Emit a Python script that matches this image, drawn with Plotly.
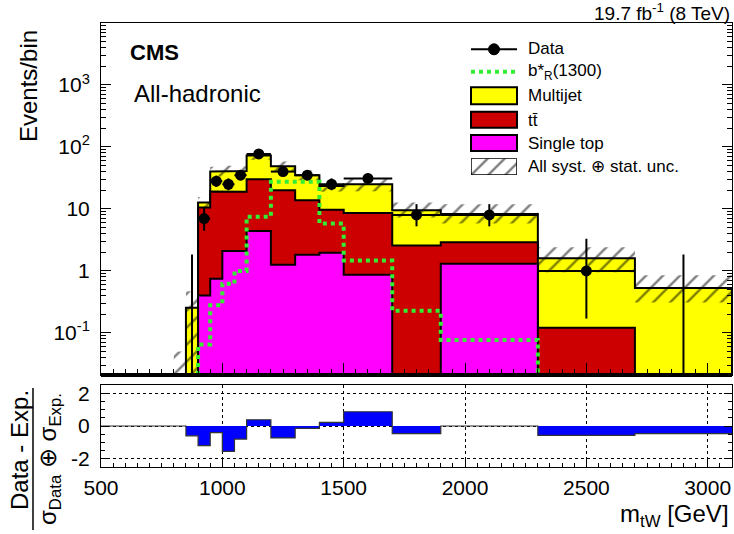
import numpy as np
import plotly.graph_objects as go

# ---------------- data ----------------
edges = [800, 850, 900, 950, 1000, 1050, 1100, 1200, 1300, 1400, 1500, 1700, 1900, 2300, 2700, 3100]
single_top = [0, 0, 0.40, 0.75, 2.1, 2.1, 4.4, 1.26, 1.82, 1.96, 0.87, 0, 1.30, 0, 0]
ttbar = [0, 0, 10.1, 18.3, 16.9, 16.9, 25.6, 18.7, 12.0, 7.7, 7.7, 2.56, 1.6, 0.121, 0]
multijet = [0, 0.254, 2.2, 21, 22, 22, 43, 29, 21.2, 13.7, 16.4, 7.0, 5.4, 1.48, 0.53]
unc_low = [1e-4, 1e-4, 10.5, 33, 34, 34, 62, 41, 29, 19, 19.5, 7.3, 5.8, 0.95, 0.31]
unc_high = [0.05, 0.47, 15.5, 48, 50, 49, 86, 58, 42, 28, 31, 12.7, 11.9, 2.4, 0.85]
signal = [0, 0, 0.065, 0.28, 0.62, 1.0, 7.5, 27.5, 27.5, 5.8, 1.47, 0.227, 0.077, 0, 0]

data_edges = [850, 900, 950, 1000, 1050, 1100, 1200, 1300, 1400, 1500, 1700, 1900, 2300, 2700, 3100]
data = [0, 7, 28, 25, 35, 77, 40, 35, 25, 31, 8, 8, 1, 0]
data_err_up = [1.84, 3.77, 6.39, 6.08, 6.97, 9.84, 7.39, 6.97, 6.08, 6.63, 3.94, 3.94, 2.30, 1.84]
data_err_dn = [0, 2.58, 5.27, 4.97, 5.89, 8.76, 6.31, 5.89, 4.97, 5.52, 2.76, 2.76, 0.83, 0]

pull_edges = [500, 850, 900, 950, 1000, 1050, 1100, 1200, 1300, 1400, 1500, 1700, 1900, 2300, 2700, 3100]
pull = [0, -0.6, -1.2, -0.4, -1.55, -0.8, 0.38, -0.73, -0.14, 0.22, 0.87, -0.47, 0.0, -0.57, -0.47]

main_yticks = [0.1, 1, 10, 100, 1000]
main_yticktext = ["10<sup>-1</sup>", "1", "10", "10<sup>2</sup>", "10<sup>3</sup>"]
x_ticks = [500, 1000, 1500, 2000, 2500, 3000]

FLOOR = 1e-4
C_YEL, C_RED, C_MAG, C_SIG, C_BLUE = "#ffff00", "#cc0000", "#ff00ff", "#33ee33", "#0000ff"
FONT = "Liberation Sans, Arial, sans-serif"

# ---------------- helpers ----------------
def step_closed(e, v, floor):
    xs, ys = [e[0]], [floor]
    for i, val in enumerate(v):
        val = max(val, floor)
        xs += [e[i], e[i + 1]]
        ys += [val, val]
    xs += [e[-1], e[0]]
    ys += [floor, floor]
    return xs, ys


def step_open(e, v, floor=None):
    xs, ys = [], []
    for i, val in enumerate(v):
        if floor is not None:
            val = max(val, floor)
        xs += [e[i], e[i + 1]]
        ys += [val, val]
    return xs, ys


st = np.array(single_top)
red = st + np.array(ttbar)
tot = red + np.array(multijet)

fig = go.Figure()

for vals, col in [(tot, C_YEL), (red, C_RED), (st, C_MAG)]:
    xs, ys = step_closed(edges, vals, FLOOR)
    fig.add_trace(go.Scatter(x=xs, y=ys, mode="lines", fill="toself", fillcolor=col,
                             line=dict(color="black", width=2), hoverinfo="skip",
                             xaxis="x", yaxis="y"))

# uncertainty band (hatched)
ux, uy = step_open(edges, unc_high)
lx, ly = step_open(edges, unc_low)
bx = ux + lx[::-1] + [ux[0]]
by = uy + ly[::-1] + [uy[0]]
hatch = dict(shape="/", fgcolor="black", bgcolor="rgba(0,0,0,0)", size=12,
             solidity=0.2, fillmode="overlay")
fig.add_trace(go.Scatter(x=bx, y=by, mode="lines", fill="toself",
                         fillcolor="rgba(0,0,0,0)", fillpattern=hatch,
                         line=dict(width=0, color="rgba(0,0,0,0)"), hoverinfo="skip",
                         xaxis="x", yaxis="y"))

# signal
sx, sy = step_open(edges, signal, FLOOR)
sx = [edges[0]] + sx
sy = [FLOOR] + sy
fig.add_trace(go.Scatter(x=sx, y=sy, mode="lines",
                         line=dict(color=C_SIG, width=4, dash="4px,4px"),
                         hoverinfo="skip", xaxis="x", yaxis="y"))

# data
de = np.array(data_edges, dtype=float)
cent = 0.5 * (de[:-1] + de[1:])
half = 0.5 * (de[1:] - de[:-1])
dv = np.array(data, dtype=float)
eu = np.array(data_err_up)
ed = np.array(data_err_dn)
nz = dv > 0
zx, zy = [], []
for c, u in zip(cent[~nz], eu[~nz]):
    zx += [c, c, None]
    zy += [FLOOR, u, None]
fig.add_trace(go.Scatter(x=zx, y=zy, mode="lines", line=dict(color="black", width=2),
                         hoverinfo="skip", xaxis="x", yaxis="y"))
fig.add_trace(go.Scatter(x=cent[nz], y=dv[nz], mode="markers",
                         marker=dict(color="black", size=11, symbol="circle"),
                         error_x=dict(type="data", array=half[nz], width=0, thickness=2, color="black"),
                         error_y=dict(type="data", symmetric=False, array=eu[nz], arrayminus=ed[nz],
                                      width=0, thickness=2, color="black"),
                         hoverinfo="skip", xaxis="x", yaxis="y"))

# pull panel
px_, py_ = step_open(pull_edges, pull)
fig.add_trace(go.Scatter(x=px_, y=py_, mode="lines", fill="tozeroy", fillcolor=C_BLUE,
                         line=dict(color="#333333", width=1.2), hoverinfo="skip",
                         xaxis="x2", yaxis="y2"))

# ---------------- layout geometry ----------------
L, R, T, B = 101, 2, 23, 67
W, H = 734, 534
PW, PH = W - L - R, H - T - B


def fx(px):
    return (px - L) / PW


def fy(py):
    return (H - B - py) / PH


# hatch legend box on its own hidden axes
fig.add_trace(go.Scatter(x=[0, 1, 1, 0, 0], y=[0, 0, 1, 1, 0], mode="lines", fill="toself",
                         fillcolor="rgba(0,0,0,0)", fillpattern=hatch,
                         line=dict(color="black", width=1.5), hoverinfo="skip",
                         xaxis="x3", yaxis="y3"))

minor_log = [k * 10.0 ** d for d in range(-2, 4) for k in range(2, 10)]
minor_log = [v for v in minor_log if 10 ** -1.68 <= v <= 1e4]

axcommon = dict(showline=True, linecolor="black", linewidth=1, showgrid=False,
                zeroline=False, ticks="inside", tickcolor="black", tickwidth=1)

fig.update_layout(
    width=W, height=H, margin=dict(l=L, r=R, t=T, b=B),
    paper_bgcolor="white", plot_bgcolor="white", showlegend=False,
    font=dict(family=FONT, color="black"),
    xaxis=dict(domain=[0, 1], anchor="y", range=[500, 3100], showticklabels=False,
               tickmode="array", tickvals=x_ticks, ticklen=12, mirror=True,
               minor=dict(ticks="inside", ticklen=6, dtick=50, tick0=500, tickcolor="black"),
               **axcommon),
    yaxis=dict(domain=[fy(375), 1], anchor="x", type="log", range=[-1.68, 4.0],
               tickmode="array", tickvals=main_yticks, ticktext=main_yticktext,
               ticklen=10, mirror="ticks", tickfont=dict(size=21), ticklabelstandoff=6,
               minor=dict(ticks="inside", ticklen=5, tickmode="array", tickvals=minor_log,
                          tickcolor="black"),
               **axcommon),
    xaxis2=dict(domain=[0, 1], anchor="y2", range=[500, 3100], matches="x",
                tickmode="array", tickvals=x_ticks, ticklen=8, mirror=True,
                tickfont=dict(size=21), ticklabelstandoff=2,
                minor=dict(ticks="inside", ticklen=4, dtick=50, tick0=500, tickcolor="black"),
                showline=True, linecolor="black", linewidth=1, zeroline=False,
                ticks="inside", tickcolor="black", tickwidth=1,
                showgrid=True, gridcolor="black", gridwidth=1, griddash="dot"),
    yaxis2=dict(domain=[0, fy(385)], anchor="x2", range=[-2.5, 2.5],
                tickmode="array", tickvals=[-2, 0, 2], ticktext=["-2", "0", "2"],
                ticklen=8, mirror="ticks", tickfont=dict(size=21), ticklabelstandoff=6,
                minor=dict(ticks="inside", ticklen=4, dtick=0.5, tick0=0, tickcolor="black"),
                showline=True, linecolor="black", linewidth=1, zeroline=False,
                ticks="inside", tickcolor="black", tickwidth=1,
                showgrid=True, gridcolor="black", gridwidth=1, griddash="dot"),
    xaxis3=dict(domain=[fx(471), fx(517)], anchor="y3", range=[0, 1], visible=False),
    yaxis3=dict(domain=[fy(175), fy(158.3)], anchor="x3", range=[0, 1], visible=False),
)

shapes = []
# thick bottom of main frame
shapes.append(dict(type="line", xref="x domain", yref="y domain", x0=0, x1=1, y0=0, y1=0,
                   line=dict(color="black", width=4)))
# legend: data
shapes.append(dict(type="line", xref="paper", yref="paper", x0=fx(471), x1=fx(517),
                   y0=fy(49.3), y1=fy(49.3), line=dict(color="black", width=2)))
shapes.append(dict(type="circle", xref="paper", yref="paper", x0=fx(488.5), x1=fx(499.5),
                   y0=fy(54.8), y1=fy(43.8), fillcolor="black", line=dict(color="black", width=1)))
# legend: signal
shapes.append(dict(type="line", xref="paper", yref="paper", x0=fx(471), x1=fx(517),
                   y0=fy(71.7), y1=fy(71.7), line=dict(color=C_SIG, width=4, dash="4px,4px")))
# legend boxes
for (y0, y1), col in [((87.3, 104.3), C_YEL), ((111.7, 127.7), C_RED), ((135, 151), C_MAG)]:
    shapes.append(dict(type="rect", xref="paper", yref="paper", x0=fx(471), x1=fx(517),
                       y0=fy(y1), y1=fy(y0), fillcolor=col, line=dict(color="black", width=2)))
# fraction line of ratio title
shapes.append(dict(type="line", xref="paper", yref="paper", x0=fx(33), x1=fx(33),
                   y0=fy(530), y1=fy(388), line=dict(color="black", width=1.5)))

ann = []


def text(t, px, py, size, xanchor="left", angle=0):
    ann.append(dict(text=t, x=fx(px), y=fy(py), xref="paper", yref="paper",
                    xanchor=xanchor, yanchor="middle", showarrow=False, textangle=angle,
                    font=dict(size=size, family=FONT, color="black")))


text("Data", 526, 49, 17)
text("b*<sub>R</sub>(1300)", 526, 72, 17)
text("Multijet", 526, 95, 17)
text("tt\u0304", 526, 120, 17)
text("Single top", 526, 143, 17)
text("All syst. \u2295 stat. unc.", 526, 166, 17)
text("<b>CMS</b>", 128, 52, 22)
text("All-hadronic", 132, 93, 24)
text("19.7 fb<sup>-1</sup> (8 TeV)", 732, 12, 19, xanchor="right")
text("m<sub>tW</sub> [GeV]", 731, 515, 24, xanchor="right")
text("Events/bin", 28, 86, 24, xanchor="center", angle=-90)
text("Data - Exp.", 19, 450, 24, xanchor="center", angle=-90)
text("\u03c3<sub>Data</sub> \u2295 \u03c3<sub>Exp.</sub>", 49, 459, 24, xanchor="center", angle=-90)

fig.update_layout(shapes=shapes, annotations=ann)
fig.write_html("out.html", config={"displayModeBar": False},
               post_script="document.body.style.margin='0';document.body.style.overflow='hidden';")
